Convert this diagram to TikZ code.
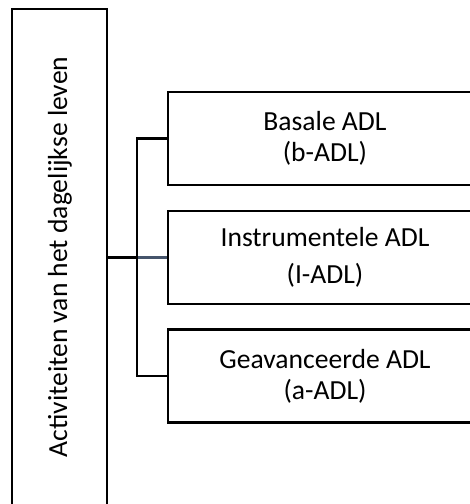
\documentclass[tikz,border=0pt]{standalone}
\usepackage{fontspec}
\setmainfont{Carlito}
\definecolor{slate}{rgb}{0.27,0.33,0.42}
\begin{document}
\begin{tikzpicture}[x=0.5pt,y=-0.5pt,
  box/.style={draw=black,line width=1.4pt,minimum width=157pt,minimum height=46.5pt,inner sep=0pt,align=center},
  conn/.style={line width=1.4pt}]
\useasboundingbox (0,0) rectangle (470,504);
\clip (0,0) rectangle (470,504);
\fontsize{13.8pt}{16pt}\selectfont
\node[draw=black,line width=1.4pt,minimum width=47.5pt,minimum height=260.5pt,inner sep=0pt] (main) at (59.5,269.5) {};
\node[rotate=90,inner sep=0pt] (mainlabel) at (60,257) {Activiteiten van het dagelijkse leven};
\node[box] (b1) at (325,138.5) {Basale ADL\\[-0.3pt](b-ADL)};
\node[box] (b2) at (325,257.5) {Instrumentele ADL\\[2.5pt](I-ADL)};
\node[box] (b3) at (325,376) {Geavanceerde ADL\\[-0.5pt](a-ADL)};
\coordinate (j) at (137,257.5);
\draw[conn] (main.east |- j) -- (j);
\draw[conn,slate] (j) -- (b2.west);
\draw[conn] (b1.west) -- (b1.west -| j) -- (b3.west -| j) -- (b3.west);
\end{tikzpicture}
\end{document}
